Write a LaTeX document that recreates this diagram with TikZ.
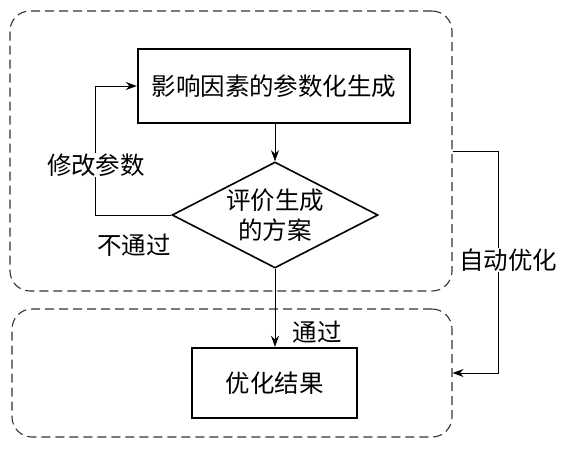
\documentclass[tikz,border=0pt]{standalone}
\usepackage{fontspec}
\newfontfamily\cjk{Noto Sans CJK SC}
\usetikzlibrary{arrows.meta,positioning}
\usetikzlibrary{shapes.geometric}

\begin{document}
\begin{tikzpicture}[
    x=1pt, y=-1pt,
    >={Stealth[length=11pt,width=8pt]},
    every node/.style={
        font=\cjk\fontsize{24.5}{30}\selectfont,
        inner sep=0pt
    },
    group/.style={
        rectangle,
        draw=black!80,
        dash pattern=on 9pt off 5pt,
        line width=1.1pt,
        rounded corners=20pt
    },
    block/.style={
        rectangle,
        draw,
        line width=2.4pt,
        fill=white
    },
    decision/.style={
        diamond,
        draw,
        line width=1.6pt,
        aspect=1.94,
        align=center
    },
    arrowline/.style={
        ->,
        line width=1pt
    },
    tag/.style={
        fill=white,
        inner sep=1pt
    }
]
\useasboundingbox (0,0) rectangle (566,451);

% Groups
\node[group, minimum width=442pt, minimum height=280pt] (top) at (231,151) {};
\node[group, minimum width=440pt, minimum height=128pt] (bot) at (232,373) {};

% Steps
\node[block, minimum width=272pt, minimum height=74pt] (gen) at (274,86) {影响因素的参数化生成};
\node[decision, minimum width=206pt, minimum height=106pt] (eval) at (275,215) {评价生成\\的方案};
\node[block, minimum width=165pt, minimum height=70pt] (res) at (274.5,383) {优化结果};

% Edges
\draw[arrowline] (gen.south -| eval.north) -- (eval.north);
\draw[arrowline] (eval.south) -- (eval.south |- res.north);
\draw[arrowline] (eval.west) -- ++(-76,0) |- (gen.west);
\draw[arrowline] (top.east) -- ++(46,0) |- (bot.east);

% Labels
\node[tag] (modify) at (96,165) {修改参数};
\node (fail) at (134,245) {不通过};
\node (pass) at (317,332) {通过};
\node[tag] (auto) at (508,260) {自动优化};

\end{tikzpicture}
\end{document}
